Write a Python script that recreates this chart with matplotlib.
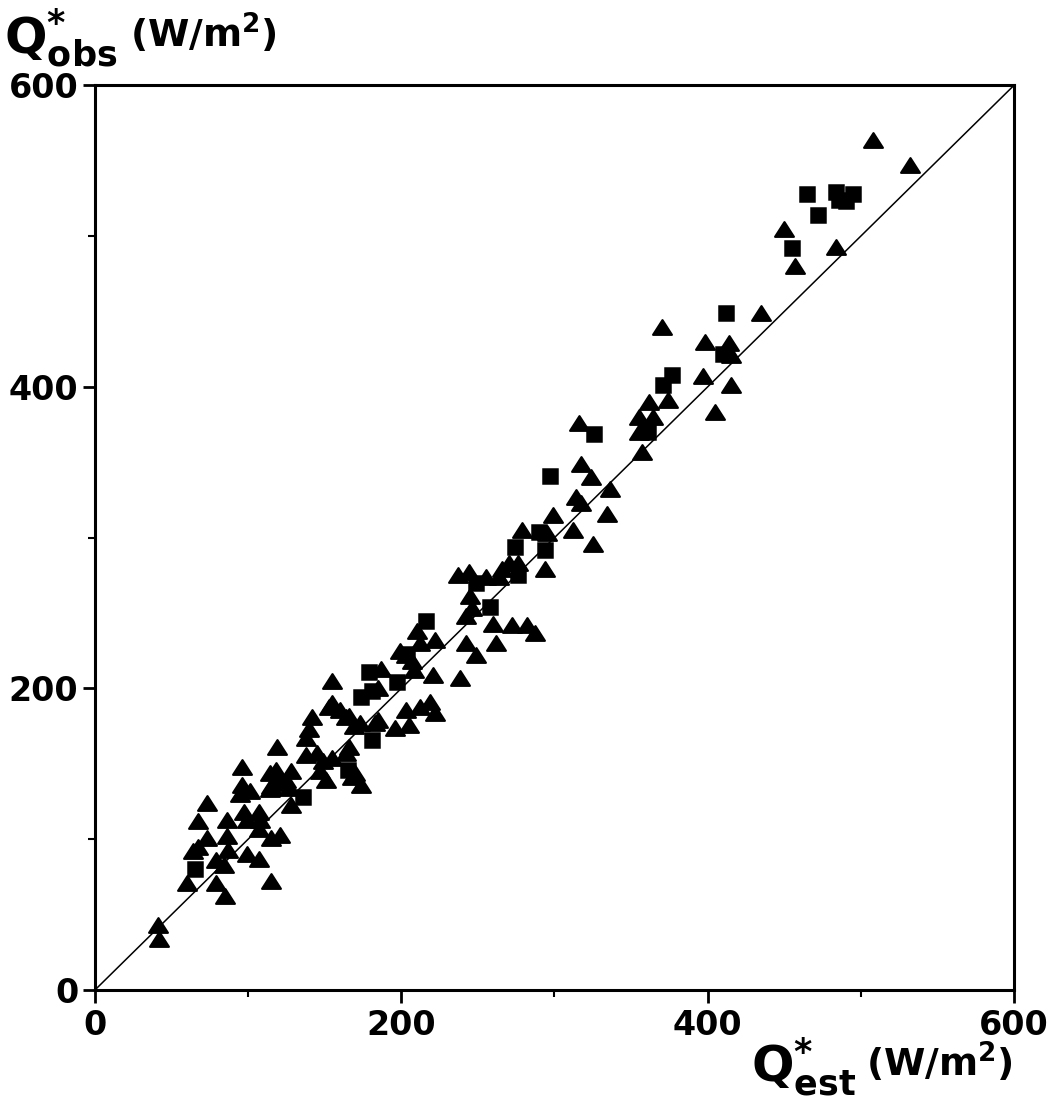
import numpy as np
import matplotlib.pyplot as plt
from matplotlib.path import Path

plt.rcParams['font.family'] = ['DejaVu Sans']
plt.rcParams['font.weight'] = 'bold'
plt.rcParams['mathtext.fontset'] = 'dejavusans'

# triangles (Q*est, Q*obs)
tri_x = [41, 42, 60, 79, 115, 85, 67, 64, 73, 86, 87, 79, 84, 115, 121, 99, 107,
         73, 67, 86, 97, 107, 99, 108, 107, 96, 96, 101, 95, 115, 121, 127, 114,
         128, 119, 138, 118, 128, 114, 121, 125, 145, 155, 147, 151, 149, 142,
         140, 138, 153, 155, 155, 160, 166, 173, 169, 164, 166, 164, 170, 174,
         168, 185, 183, 196, 205, 203, 212, 219, 222, 185, 187, 208, 221, 199,
         203, 207, 210, 222, 212, 242, 238, 242, 249, 262, 245, 246, 260, 272,
         282, 287, 237, 244, 255, 264, 266, 270, 276, 294, 279, 295, 299, 312,
         314, 317, 336, 334, 325, 316, 317, 324, 357, 355, 355, 364, 362, 374,
         370, 397, 415, 405, 398, 414, 415, 435, 450, 457, 484, 508, 532]
tri_y = [43, 34, 71, 71, 72, 62, 95, 92, 101, 102, 93, 86, 83, 101, 103, 90, 87,
         124, 112, 113, 118, 118, 113, 113, 107, 148, 136, 132, 130, 135, 137, 134, 133,
         123, 161, 156, 146, 145, 144, 139, 139, 157, 154, 145, 139, 152, 181,
         173, 167, 188, 205, 190, 186, 182, 177, 175, 181, 161, 157, 144, 136,
         141, 179, 177, 174, 176, 186, 188, 191, 184, 200, 213, 212, 209, 225,
         222, 218, 238, 232, 230, 248, 207, 230, 222, 230, 261, 253, 243, 242,
         242, 237, 275, 277, 274, 274, 279, 283, 283, 279, 305, 303, 315, 305,
         327, 323, 332, 316, 296, 376, 349, 340, 357, 370, 380, 380, 390, 391,
         440, 407, 401, 383, 430, 429, 421, 449, 505, 480, 493, 564, 547]

# squares (Q*est, Q*obs)
sq_x = [65, 136, 165, 181, 174, 181, 179, 197, 204, 216, 258, 249, 276, 274, 294,
        290, 297, 326, 361, 371, 377, 410, 412, 455, 465, 472, 484, 495, 486, 490]
sq_y = [80, 128, 146, 166, 194, 198, 211, 204, 223, 245, 254, 270, 275, 294, 292,
        304, 341, 369, 370, 401, 408, 422, 449, 492, 528, 514, 529, 528, 524, 523]

ticks = [0, 200, 400, 600]
minor = [100, 300, 500]

tri = Path([(-1, -0.78), (1, -0.78), (0, 0.78), (-1, -0.78)],
           [Path.MOVETO, Path.LINETO, Path.LINETO, Path.CLOSEPOLY])

fig = plt.figure(figsize=(10.48, 11.06), dpi=100)
ax = fig.add_axes([0.0906, 0.1049, 0.877, 0.818])

ax.plot([0, 600], [0, 600], color='black', lw=1.1, zorder=2)
ax.plot(tri_x, tri_y, linestyle='none', marker=tri, ms=13.5, color='black',
        mew=1.6, markeredgecolor='black', zorder=3)
ax.plot(sq_x, sq_y, linestyle='none', marker='s', ms=10.5, color='black',
        mew=1.8, markeredgecolor='black', zorder=3)

ax.set_xlim(0, 600)
ax.set_ylim(0, 600)
ax.set_xticks(ticks)
ax.set_yticks(ticks)
ax.set_xticks(minor, minor=True)
ax.set_yticks(minor, minor=True)
ax.tick_params(which='major', direction='out', length=9, width=2,
               labelsize=24, pad=3)
ax.tick_params(axis='x', which='major', pad=5)
ax.tick_params(which='minor', direction='out', length=5, width=1.5)
for s in ax.spines.values():
    s.set_linewidth(2.2)

# axis titles
fig.text(0.004, 0.951, r'$\mathbf{Q^{*}_{obs}}$', fontsize=36, va='baseline')
fig.text(0.124, 0.957, r'(W/m$^{\mathbf{2}}$)', fontsize=27, va='baseline')
fig.text(0.717, 0.022, r'$\mathbf{Q^{*}_{est}}$', fontsize=36, va='baseline')
fig.text(0.826, 0.027, r'(W/m$^{\mathbf{2}}$)', fontsize=27, va='baseline')

fig.savefig('out.png', dpi=100, facecolor='white')
